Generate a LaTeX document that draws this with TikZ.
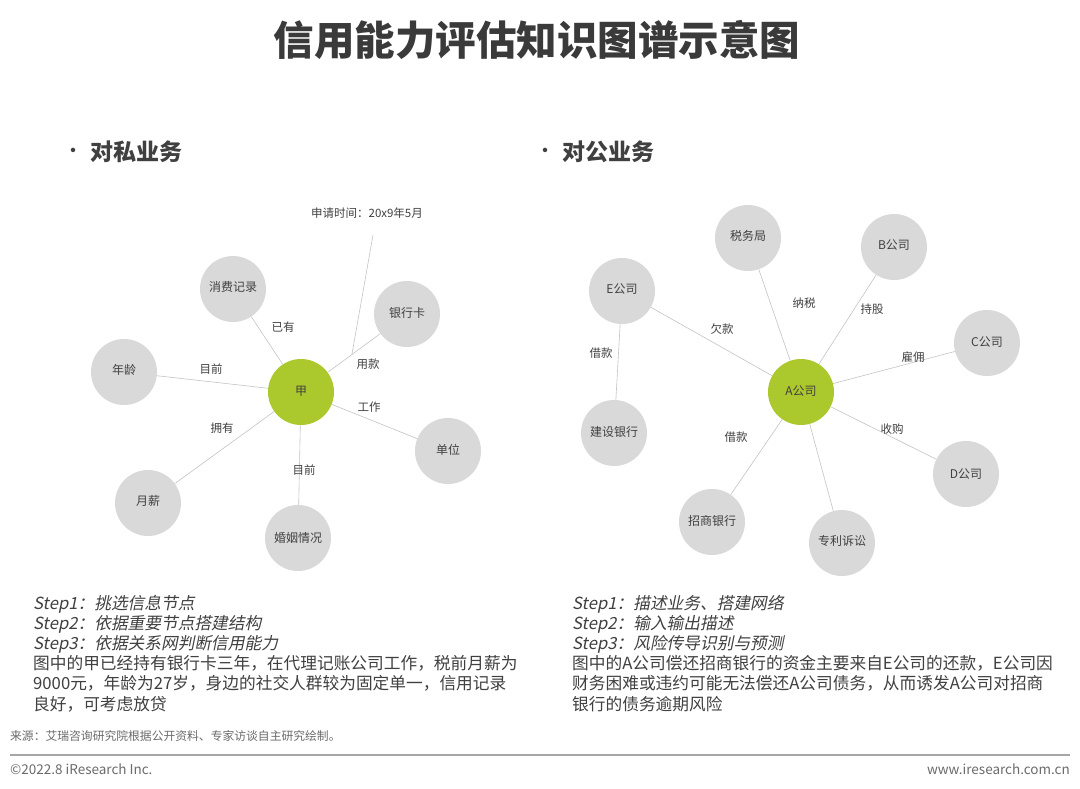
\documentclass[tikz,border=0pt]{standalone}
\usepackage{fontspec}
\setmainfont{Noto Sans CJK SC}
\newfontfamily\slantfont[FakeSlant=0.2]{Noto Sans CJK SC}
\definecolor{nodegray}{HTML}{D9D9D9}
\definecolor{nodegreen}{HTML}{ABC92C}
\definecolor{edgegray}{HTML}{C4C4C4}
\definecolor{textgray}{HTML}{404040}
\definecolor{titlegray}{HTML}{3A3A3A}
\definecolor{footgray}{HTML}{6B6B6B}
\definecolor{rulegray}{HTML}{A6A6A6}
\begin{document}
\begin{tikzpicture}[x=1pt,y=-1pt,
  gnode/.style={circle, fill=nodegray, minimum size=66pt, inner sep=0pt, text=textgray, font=\fontsize{12}{14}\selectfont},
  cnode/.style={gnode, fill=nodegreen},
  edge/.style={draw=edgegray, line width=0.6pt},
  elabel/.style={text=textgray, font=\fontsize{11.5}{13}\selectfont, inner sep=1pt},
  body/.style={anchor=base west, inner sep=0pt, text=textgray, font=\fontsize{16.7}{20}\selectfont},
  stepline/.style={body, font=\fontsize{16.7}{20}\slantfont},
  foot/.style={inner sep=0pt, text=footgray},
  subtitle/.style={text=textgray, font=\fontsize{23}{26}\bfseries, inner sep=0pt}
]
\useasboundingbox (0,0) rectangle (1080,789);
\fill[white] (0,0) rectangle (1080,789);

% title
\node[text=titlegray, font=\fontsize{40.5}{46}\bfseries] (title) at (537,40) {信用能力评估知识图谱示意图};

% subtitles
\node[subtitle, font=\fontsize{16}{18}\bfseries] (b1) at (73,152) {•};
\node[subtitle, anchor=west] (sub1) at (90,152) {对私业务};
\node[subtitle, font=\fontsize{16}{18}\bfseries] (b2) at (545,152) {•};
\node[subtitle, anchor=west] (sub2) at (562,152) {对公业务};

% ---------- left graph ----------
\node[cnode] (jia) at (301,392) {\raisebox{3pt}{甲}};
\node[gnode] (xf) at (233,289) {\raisebox{5pt}{消费记录}};
\node[gnode] (yhk) at (407,314) {\raisebox{4pt}{银行卡}};
\node[gnode] (nl) at (124,372) {\raisebox{6pt}{年龄}};
\node[gnode] (dw) at (448,451) {\raisebox{4pt}{单位}};
\node[gnode] (yx) at (148,503) {\raisebox{5pt}{月薪}};
\node[gnode] (hy) at (298,538) {婚姻情况};

\draw[edge] (jia) -- (xf);
\draw[edge] (jia) -- (yhk);
\draw[edge] (jia) -- (nl);
\draw[edge] (jia) -- (dw);
\draw[edge] (jia) -- (yx);
\draw[edge] (jia) -- (hy);

\path (yhk) -- (jia) coordinate[pos=0.54] (tm);
\node[text=textgray, font=\fontsize{11.5}{13}\selectfont] (sq) at (367,213) {申请时间：20x9年5月};
\coordinate (tq) at (373,235);
\draw[edge] (tq) -- (tm);

\node[elabel] (l1) at (283,327) {已有};
\node[elabel] (l2) at (211,369) {目前};
\node[elabel] (l3) at (368,364) {用款};
\node[elabel] (l4) at (369,407) {工作};
\node[elabel] (l5) at (222,428) {拥有};
\node[elabel] (l6) at (304,470) {目前};

% ---------- right graph ----------
\node[cnode] (A) at (801,392) {\raisebox{3pt}{A公司}};
\node[gnode] (sw) at (748,238) {\raisebox{5pt}{税务局}};
\node[gnode] (B) at (894,247) {\raisebox{4pt}{B公司}};
\node[gnode] (E) at (622,291) {\raisebox{4pt}{E公司}};
\node[gnode] (C) at (987,343) {\raisebox{2pt}{C公司}};
\node[gnode] (js) at (614,433) {\raisebox{3pt}{建设银行}};
\node[gnode] (D) at (966,474) {\raisebox{1pt}{D公司}};
\node[gnode] (zs) at (712,522) {\raisebox{3pt}{招商银行}};
\node[gnode] (zl) at (842,543) {\raisebox{5pt}{专利诉讼}};

\draw[edge] (A) -- (sw);
\draw[edge] (A) -- (B);
\draw[edge] (A) -- (E);
\draw[edge] (A) -- (C);
\draw[edge] (A) -- (D);
\draw[edge] (A) -- (zs);
\draw[edge] (A) -- (zl);
\draw[edge] (E) -- (js);

\node[elabel] (r1) at (804,303) {纳税};
\node[elabel] (r2) at (872,309) {持股};
\node[elabel] (r3) at (722,329) {欠款};
\node[elabel] (r4) at (601,353) {借款};
\node[elabel] (r5) at (913,357) {雇佣};
\node[elabel] (r6) at (892,429) {收购};
\node[elabel] (r7) at (736,437) {借款};

% ---------- text blocks ----------
\node[stepline] (ls1) at (33,609) {Step1：挑选信息节点};
\node[stepline] (ls2) at (33,629) {Step2：依据重要节点搭建结构};
\node[stepline] (ls3) at (33,649) {Step3：依据关系网判断信用能力};
\node[body] (lb1) at (33,669) {图中的甲已经持有银行卡三年，在代理记账公司工作，税前月薪为};
\node[body] (lb2) at (33,689.5) {9000元，年龄为27岁，身边的社交人群较为固定单一，信用记录};
\node[body] (lb3) at (33,710) {良好，可考虑放贷};

\node[stepline] (rs1) at (572,609) {Step1：描述业务、搭建网络};
\node[stepline] (rs2) at (572,629) {Step2：输入输出描述};
\node[stepline] (rs3) at (572,649) {Step3：风险传导识别与预测};
\node[body] (rb1) at (572,669) {图中的A公司偿还招商银行的资金主要来自E公司的还款，E公司因};
\node[body] (rb2) at (572,689.5) {财务困难或违约可能无法偿还A公司债务，从而诱发A公司对招商};
\node[body] (rb3) at (572,710) {银行的债务逾期风险};

% ---------- footer ----------
\node[foot, anchor=west, font=\fontsize{11.8}{14}\selectfont] (src) at (10,736) {来源：艾瑞咨询研究院根据公开资料、专家访谈自主研究绘制。};
\draw[rulegray, line width=1.5pt] (10,755) -- (1070,755);
\node[foot, anchor=west, font=\fontsize{13.5}{15}\selectfont] (copy) at (10,769) {©2022.8 iResearch Inc.};
\node[foot, anchor=east, font=\fontsize{13.5}{15}\selectfont] (web) at (1070,769) {www.iresearch.com.cn};
\end{tikzpicture}
\end{document}
